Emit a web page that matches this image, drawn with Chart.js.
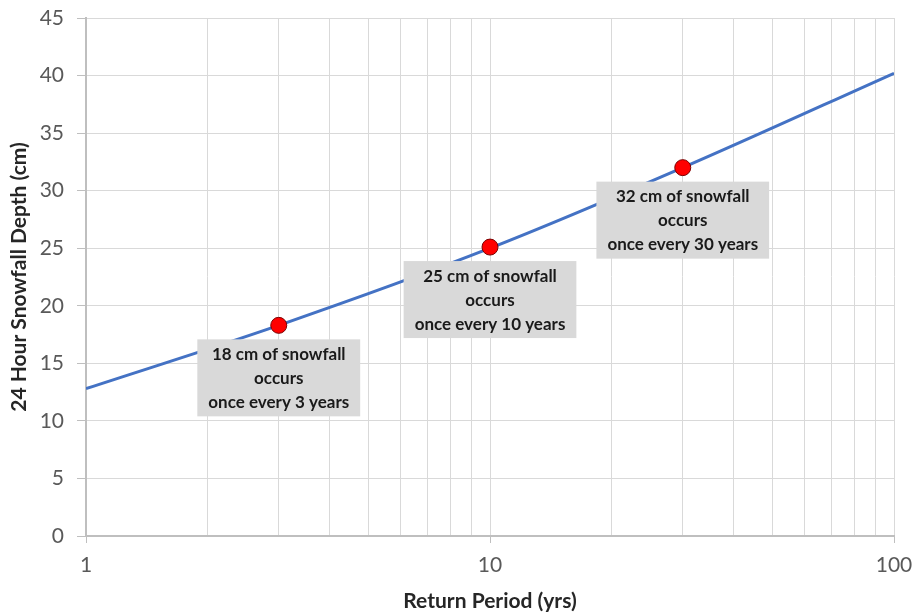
<!DOCTYPE html>
<html>
<head>
<meta charset="utf-8">
<script src="https://cdn.jsdelivr.net/npm/chart.js@4"></script>
<style>
html,body{margin:0;padding:0;background:#fff;}
#wrap{width:915px;height:614px;position:relative;}
</style>
</head>
<body>
<div id="wrap"><canvas id="c" width="915" height="614"></canvas></div>
<script>
// Curve (return period in years, depth in cm)
const curvePeriods = [1, 3, 10, 30, 100];
const curveDepths = [12.8, 18.3, 25.0, 32.0, 40.2];
// Highlighted points
const markPeriods = [3, 10, 30];
const markDepths = [18.3, 25.1, 32.0];
const markLabels = [
  ["18 cm of snowfall", "occurs", "once every 3 years"],
  ["25 cm of snowfall", "occurs", "once every 10 years"],
  ["32 cm of snowfall", "occurs", "once every 30 years"]
];
const xTickLabels = [1, 10, 100];
const yTitle = "24 Hour Snowfall Depth (cm)";
const xTitle = "Return Period (yrs)";

const FONT = "Lato, 'Open Sans', sans-serif";

const boxPlugin = {
  id: 'boxes',
  afterDatasetsDraw(chart) {
    const ctx = chart.ctx;
    const xs = chart.scales.x, ys = chart.scales.y;
    ctx.save();
    ctx.font = "bold 17px " + FONT;
    markPeriods.forEach((p, i) => {
      const px = xs.getPixelForValue(p);
      const py = ys.getPixelForValue(markDepths[i]);
      const lines = markLabels[i];
      let w = 0;
      lines.forEach(l => { w = Math.max(w, ctx.measureText(l).width); });
      const bw = w + 22, bh = 77;
      const bx = px - bw / 2, by = py + 14;
      ctx.fillStyle = "#d9d9d9";
      ctx.fillRect(bx, by, bw, bh);
      ctx.fillStyle = "#1a1a1a";
      ctx.textAlign = "center";
      ctx.textBaseline = "middle";
      lines.forEach((l, k) => ctx.fillText(l, px, by + 15 + k * 24));
    });
    ctx.restore();
  }
};

new Chart(document.getElementById('c'), {
  type: 'scatter',
  data: {
    datasets: [
      {
        data: markPeriods.map((p, i) => ({x: p, y: markDepths[i]})),
        backgroundColor: '#ff0000',
        borderColor: '#7a0000',
        borderWidth: 1,
        pointRadius: 8,
        showLine: false,
        order: 0
      },
      {
        data: curvePeriods.map((p, i) => ({x: p, y: curveDepths[i]})),
        borderColor: '#4472c4',
        borderWidth: 3,
        pointRadius: 0,
        showLine: true,
        cubicInterpolationMode: 'monotone',
        order: 1
      }
    ]
  },
  options: {
    responsive: false,
    animation: false,
    devicePixelRatio: 1,
    layout: {padding: {top: 18, right: 21, left: 0, bottom: 0}},
    plugins: {legend: {display: false}, tooltip: {enabled: false}},
    scales: {
      x: {
        type: 'logarithmic',
        min: 1, max: 100,
        afterFit(s) { s.height = 78; s.paddingLeft = 0; s.paddingRight = 0; },
        grid: {
          color: '#d9d9d9',
          lineWidth: 1,
          tickLength: 7,
          tickColor: (c) => (c.tick && xTickLabels.includes(c.tick.value)) ? '#bfbfbf' : 'rgba(0,0,0,0)'
        },
        border: {color: '#bfbfbf', width: 2},
        ticks: {
          autoSkip: false,
          maxRotation: 0,
          padding: 10,
          color: '#595959',
          font: {family: FONT, size: 21},
          callback: (v) => xTickLabels.includes(v) ? String(v) : ''
        },
        afterBuildTicks(s) {
          const t = [];
          for (let d = 1; d < 100; d *= 10) for (let k = 1; k < 10; k++) t.push({value: k * d});
          t.push({value: 100});
          s.ticks = t;
        },
        title: {
          display: true, text: xTitle, color: '#262626',
          font: {family: FONT, size: 21, weight: 'bold'},
          padding: {top: 4, bottom: 0}
        }
      },
      y: {
        min: 0, max: 45,
        afterFit(s) { s.width = 86; s.paddingTop = 0; s.paddingBottom = 0; },
        grid: {color: '#d9d9d9', lineWidth: 1, tickLength: 9, tickColor: '#bfbfbf'},
        border: {color: '#bfbfbf', width: 2},
        ticks: {
          stepSize: 5,
          padding: 13,
          color: '#595959',
          font: {family: FONT, size: 21}
        },
        title: {
          display: true, text: yTitle, color: '#262626',
          font: {family: FONT, size: 21, weight: 'bold'},
          padding: {top: 7, bottom: 0}
        }
      }
    }
  },
  plugins: [boxPlugin]
});
</script>
</body>
</html>
